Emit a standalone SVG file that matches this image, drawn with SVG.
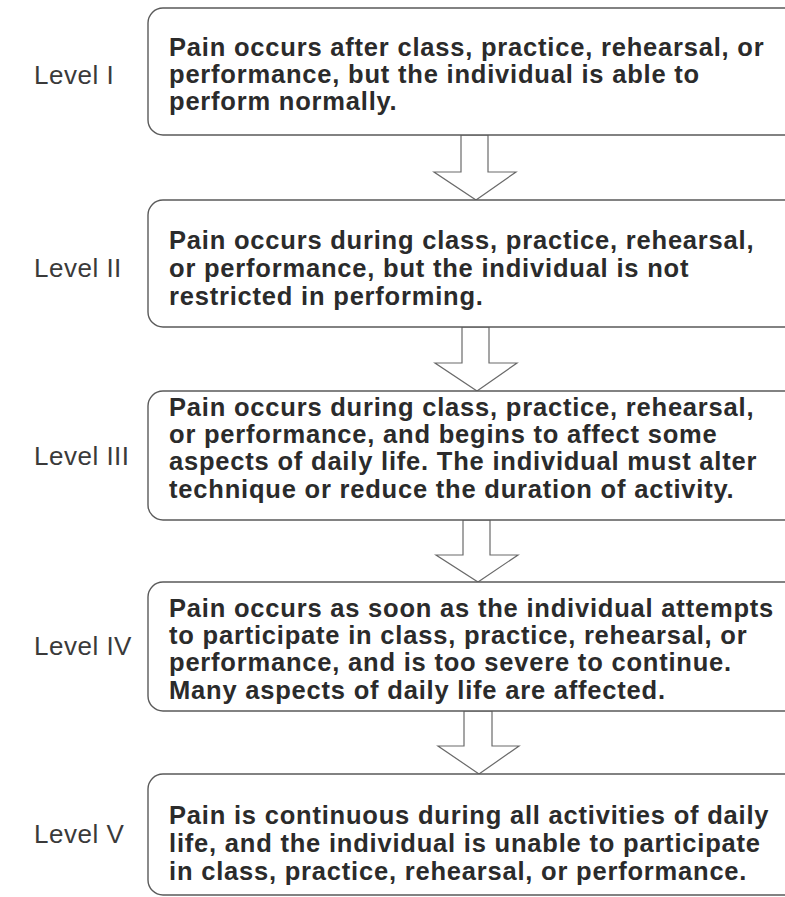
<svg xmlns="http://www.w3.org/2000/svg" width="785" height="897" viewBox="0 0 785 897">
<style>
.box{fill:#fff;stroke:#5a5a5a;stroke-width:1.4}
.arrow{fill:#fff;stroke:#6a6a6a;stroke-width:1.2;stroke-linejoin:miter}
.lbl{font-family:"Liberation Sans",Arial,sans-serif;font-size:26px;letter-spacing:0.5px;fill:#3a3a3a}
.txt{font-family:"Liberation Sans",Arial,sans-serif;font-size:25.5px;letter-spacing:0.8px;font-weight:bold;fill:#2b2b2b}
</style>
<rect width="785" height="897" fill="#fff"/>
<g id="connectors">
<polygon class="arrow" points="461,135 488,135 488,172 516,172 476,200 434,172 461,172"/>
<polygon class="arrow" points="462,327 489,327 489,363 517,363 477,391 435,363 462,363"/>
<polygon class="arrow" points="463,520 490,520 490,555 518,555 478,582 436,555 463,555"/>
<polygon class="arrow" points="464,711 492,711 492,746 519,746 479,774 438,746 464,746"/>
</g>
<g id="level1">
<rect class="box" x="148" y="8" width="700" height="127" rx="15"/>
<text class="lbl" x="34" y="84">Level I</text>
<text class="txt" x="169" y="56">Pain occurs after class, practice, rehearsal, or</text>
<text class="txt" x="169" y="83">performance, but the individual is able to</text>
<text class="txt" x="169" y="110">perform normally.</text>
</g>
<g id="level2">
<rect class="box" x="148" y="200" width="700" height="127" rx="15"/>
<text class="lbl" x="34" y="277">Level II</text>
<text class="txt" x="169" y="249">Pain occurs during class, practice, rehearsal,</text>
<text class="txt" x="169" y="277">or performance, but the individual is not</text>
<text class="txt" x="169" y="305">restricted in performing.</text>
</g>
<g id="level3">
<rect class="box" x="148" y="391" width="700" height="129" rx="15"/>
<text class="lbl" x="34" y="465">Level III</text>
<text class="txt" x="169" y="416">Pain occurs during class, practice, rehearsal,</text>
<text class="txt" x="169" y="443">or performance, and begins to affect some</text>
<text class="txt" x="169" y="470">aspects of daily life. The individual must alter</text>
<text class="txt" x="169" y="498">technique or reduce the duration of activity.</text>
</g>
<g id="level4">
<rect class="box" x="148" y="582" width="700" height="129" rx="15"/>
<text class="lbl" x="34" y="655">Level IV</text>
<text class="txt" x="169" y="617">Pain occurs as soon as the individual attempts</text>
<text class="txt" x="169" y="644">to participate in class, practice, rehearsal, or</text>
<text class="txt" x="169" y="671">performance, and is too severe to continue.</text>
<text class="txt" x="169" y="699">Many aspects of daily life are affected.</text>
</g>
<g id="level5">
<rect class="box" x="148" y="774" width="700" height="121" rx="15"/>
<text class="lbl" x="34" y="843">Level V</text>
<text class="txt" x="169" y="824">Pain is continuous during all activities of daily</text>
<text class="txt" x="169" y="852">life, and the individual is unable to participate</text>
<text class="txt" x="169" y="880">in class, practice, rehearsal, or performance.</text>
</g>
</svg>
